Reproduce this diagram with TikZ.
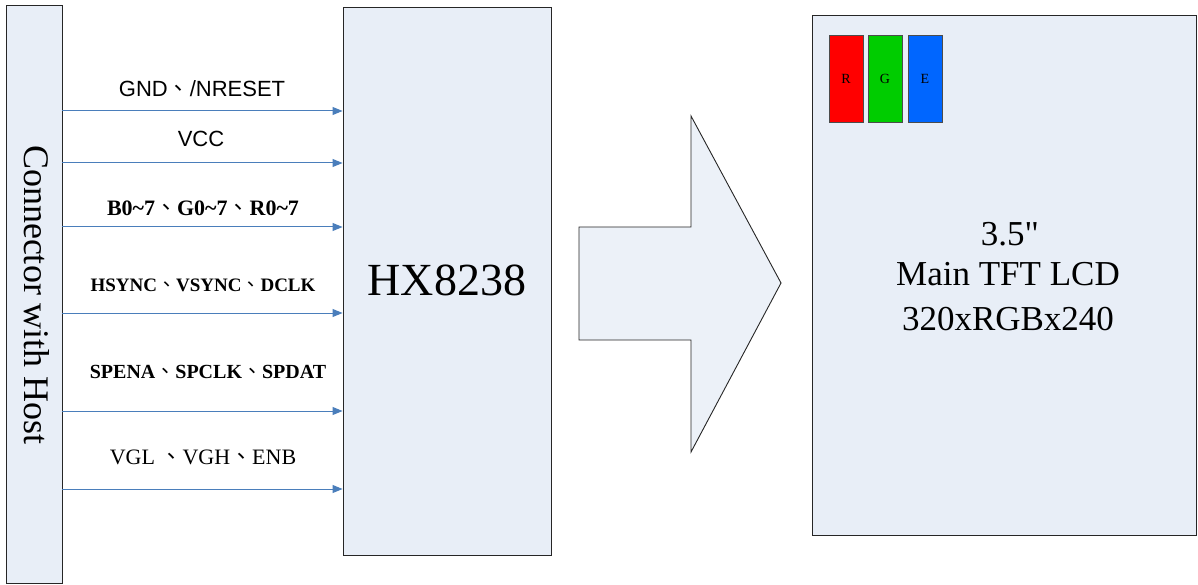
\documentclass[tikz,border=0pt]{standalone}
\usepackage{fontspec}
\setmainfont{Liberation Serif}
\newfontfamily\rawserif{Liberation Serif}
\newfontfamily\arialf{Liberation Sans}
\newfontfamily\cjk{Noto Sans CJK TC}
\usetikzlibrary{arrows.meta}
\definecolor{boxfill}{HTML}{E8EEF7}
\definecolor{arrfill}{HTML}{ECF1F8}
\definecolor{sigblue}{HTML}{4A7EBB}
\definecolor{rr}{HTML}{FF0000}
\definecolor{gg}{HTML}{00CC00}
\definecolor{bb}{HTML}{0066FF}
\newcommand{\dun}{{\cjk\mdseries 、}}
\tikzset{
  blk/.style={draw=black!85, line width=0.9pt, fill=boxfill, rectangle, inner sep=0pt},
  sig/.style={draw=sigblue, line width=1pt, -{Triangle[length=10pt,width=8pt]}, color=sigblue},
  lbl/.style={inner sep=0pt, anchor=center, text=black},
  pix/.style={draw=black!70, line width=0.8pt, rectangle, inner sep=0pt, minimum width=34pt, minimum height=87pt, font=\fontsize{14}{14}\selectfont}
}
\begin{document}
\begin{tikzpicture}[x=1pt,y=-1pt]
\useasboundingbox (0,0) rectangle (1198,585);
% connector
\node[blk, minimum width=56pt, minimum height=578pt] (conn) at (34,294) {};
\node[lbl, rotate=-90, font=\fontsize{36}{36}\selectfont] (conntxt) at (37,295) {Connector with Host};
% HX8238
\node[blk, minimum width=208pt, minimum height=548pt] (hx) at (447,281) {};
\node[lbl, font=\fontsize{46}{46}\selectfont] (hxtxt) at (447,280) {HX8238};
% signal arrows
\foreach \yy/\nm in {111/a,163/b,227/c,313/d,411/e,489/f}{
  \coordinate (s\nm) at (0,\yy);
  \draw[sig] (conn.east |- s\nm) -- (hx.west |- s\nm);
}
% labels
\node[lbl, font=\arialf\fontsize{22}{22}\selectfont] (la) at (202,89) {GND\dun/NRESET};
\node[lbl, font=\arialf\fontsize{22}{22}\selectfont] (lb) at (201,139) {VCC};
\node[lbl, font=\bfseries\fontsize{22}{22}\selectfont] (lc) at (203,208) {B0\textasciitilde7\dun G0\textasciitilde7\dun R0\textasciitilde7};
\node[lbl, font=\bfseries\fontsize{19}{19}\selectfont] (ld) at (203,285) {HSYNC\dun VSYNC\dun DCLK};
\node[lbl, font=\bfseries\fontsize{20}{20}\selectfont] (le) at (208,372) {SPENA\dun SPCLK\dun SPDAT};
\node[lbl, font=\fontsize{22}{22}\selectfont] (lf) at (203,457) {VGL \dun VGH\dun ENB};
% big arrow
\draw[draw=black!85, line width=0.9pt, fill=arrfill] (579,227) -- (691,227) -- (691,116) -- (781,283) -- (691,452) -- (691,340) -- (579,340) -- cycle;
% LCD
\node[blk, minimum width=384pt, minimum height=520pt] (lcd) at (1004,275) {};
\node[lbl, font=\rawserif\fontsize{35}{35}\selectfont] (t1) at (1010,234) {3.5"};
\node[lbl, font=\fontsize{35}{35}\selectfont] (t2) at (1008,274) {Main TFT LCD};
\node[lbl, font=\fontsize{35}{35}\selectfont] (t3) at (1008,319) {320xRGBx240};
% pixels
\node[pix, fill=rr] (pr) at (846,78.5) {R};
\node[pix, fill=gg] (pg) at (885,78.5) {G};
\node[pix, fill=bb] (pb) at (925,78.5) {E};
\end{tikzpicture}
\end{document}
